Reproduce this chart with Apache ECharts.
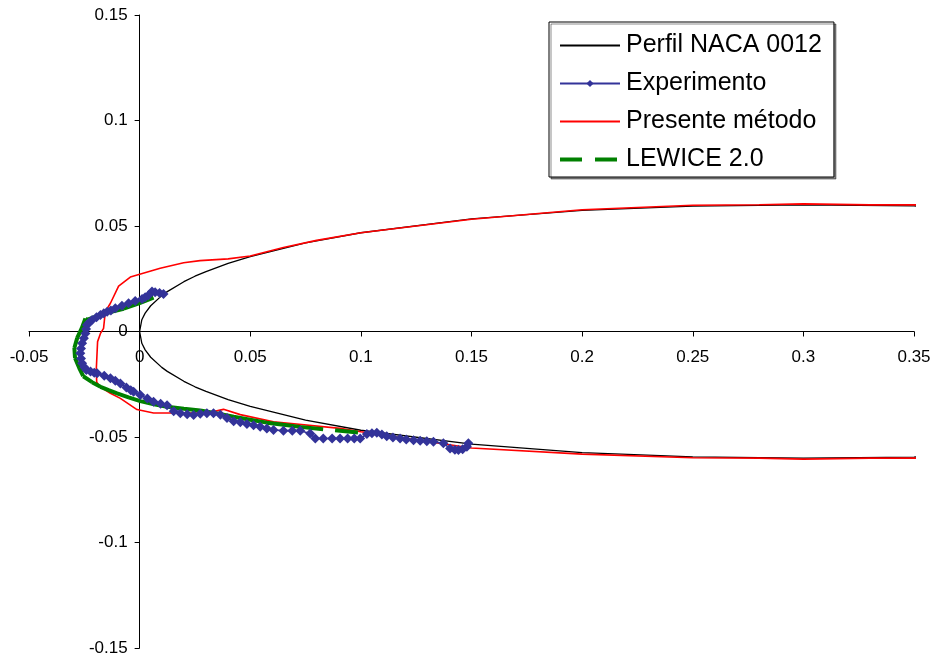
<!DOCTYPE html>
<html>
<head>
<meta charset="utf-8">
<title>Perfil NACA 0012 - hielo</title>
<script src="https://cdn.jsdelivr.net/npm/echarts@6/dist/echarts.min.js"></script>
<style>
    html, body { margin: 0; padding: 0; background: #fff; }
    #chart { width: 934px; height: 657px; }
</style>
</head>
<body>
<div id="chart"></div>
<script>
// nombres de las series (leyenda)
var seriesNames = ['Perfil NACA 0012', 'Experimento', 'Presente método', 'LEWICE 2.0'];

// perfil NACA 0012: extrados de 0.4 a 0, luego intrados de 0 a 0.4
var perfilX = [0.4, 0.35, 0.3, 0.25, 0.2, 0.15, 0.1, 0.075, 0.05, 0.04, 0.03, 0.025, 0.02, 0.0125, 0.01, 0.005, 0.0025, 0.001, 0,
    0.001, 0.0025, 0.005, 0.01, 0.0125, 0.02, 0.025, 0.03, 0.04, 0.05, 0.075, 0.1, 0.15, 0.2, 0.25, 0.3, 0.35, 0.4];
var perfilY = [0.058, 0.0595, 0.06, 0.0594, 0.0574, 0.0534, 0.0468, 0.042, 0.0355, 0.0323, 0.0284, 0.0262, 0.0236, 0.0189, 0.017, 0.0122, 0.0087, 0.0056, 0,
    -0.0056, -0.0087, -0.0122, -0.017, -0.0189, -0.0236, -0.0262, -0.0284, -0.0323, -0.0355, -0.042, -0.0468, -0.0534, -0.0574, -0.0594, -0.06, -0.0595, -0.058];

// experimento (puntos con rombo)
var expX = [0.0108, 0.009, 0.007, 0.0056, 0.004, 0.0025, 0.0011, -0.002, -0.005, -0.008, -0.011, -0.013, -0.0147, -0.0162, -0.0177, -0.0195,
    -0.0215, -0.0228, -0.0238, -0.0242, -0.0245, -0.0252, -0.026, -0.0265, -0.0268, -0.0265, -0.026, -0.025, -0.0241, -0.0222, -0.0205,
    -0.0192, -0.016, -0.0132, -0.011, -0.0087, -0.006, -0.004, -0.0027, 0.0003, 0.0035, 0.0063, 0.0095, 0.0124, 0.0154, 0.0184, 0.0215,
    0.0244, 0.0274, 0.0304, 0.0334, 0.0365, 0.0395, 0.0425, 0.0455, 0.0485, 0.0515, 0.0545, 0.0575, 0.0605, 0.065, 0.069, 0.0726, 0.0771,
    0.0794, 0.083, 0.087, 0.0906, 0.094, 0.097, 0.0997, 0.1027, 0.105, 0.1072, 0.1095, 0.1117, 0.1145, 0.1177, 0.1205, 0.1238, 0.1268,
    0.1298, 0.1328, 0.1373, 0.1403, 0.1425, 0.1441, 0.146, 0.1479, 0.1486];
var expY = [0.0178, 0.0183, 0.0186, 0.0189, 0.0172, 0.0162, 0.0154, 0.0145, 0.0134, 0.0122, 0.011, 0.01, 0.0094, 0.0086, 0.0078, 0.0068,
    0.0055, 0.0043, 0.0031, 0.0012, -0.0009, -0.0032, -0.0056, -0.008, -0.0103, -0.0128, -0.0151, -0.017, -0.0183, -0.019, -0.0195,
    -0.0198, -0.021, -0.0222, -0.0234, -0.0246, -0.0265, -0.0278, -0.0286, -0.0301, -0.0318, -0.0333, -0.0342, -0.0349, -0.0378, -0.0388, -0.0392,
    -0.0396, -0.039, -0.0388, -0.0388, -0.0395, -0.041, -0.0425, -0.043, -0.0438, -0.0444, -0.0452, -0.046, -0.0467, -0.047, -0.047, -0.047, -0.0483,
    -0.0507, -0.0507, -0.0507, -0.0507, -0.0507, -0.0507, -0.0507, -0.0486, -0.0482, -0.048, -0.0488, -0.0496, -0.0502, -0.0507, -0.0512, -0.0515, -0.0518,
    -0.052, -0.0523, -0.053, -0.0554, -0.056, -0.0562, -0.0558, -0.0546, -0.053];

// presente método
var presX = [0.36, 0.33, 0.3, 0.28, 0.25, 0.2, 0.15, 0.1, 0.08, 0.065, 0.05, 0.04, 0.0273, 0.0199, 0.0093, -0.0042, -0.0095, -0.0132, -0.0155,
    -0.0159, -0.0163, -0.0177, -0.019, -0.0196, -0.0194, -0.0175, -0.0132, -0.0087, -0.0012, 0.0063, 0.0304, 0.0379, 0.0455, 0.0605, 0.0906,
    0.1, 0.15, 0.2, 0.25, 0.28, 0.3, 0.33, 0.36];
var presY = [0.06, 0.06, 0.0605, 0.0601, 0.0598, 0.0577, 0.0532, 0.0468, 0.0432, 0.0398, 0.0358, 0.0344, 0.0336, 0.0326, 0.03, 0.0258, 0.0215, 0.0134, 0.0094,
    0.0055, 0.0015, -0.0009, -0.0048, -0.0183, -0.024, -0.0265, -0.0293, -0.0317, -0.037, -0.0386, -0.0386, -0.0369, -0.0394, -0.0428, -0.0459,
    -0.0475, -0.0552, -0.0581, -0.0598, -0.06, -0.0605, -0.06, -0.06];

// LEWICE 2.0
var lewX = [0.0063, 0, -0.0072, -0.0147, -0.0205, -0.0238, -0.0245, -0.0262, -0.0282, -0.0295, -0.0292, -0.027, -0.0255, -0.0215, -0.0177,
    -0.014, -0.0102, -0.005, 0.0003, 0.0065, 0.0124, 0.02, 0.0274, 0.035, 0.0425, 0.05, 0.0575, 0.065, 0.0726, 0.0995];
var lewY = [0.016, 0.0135, 0.0108, 0.0088, 0.0068, 0.0055, 0.0062, 0.0015, -0.003, -0.0078, -0.0125, -0.018, -0.0212, -0.024, -0.0262,
    -0.0278, -0.0293, -0.0312, -0.033, -0.0345, -0.0357, -0.0366, -0.0374, -0.0388, -0.0404, -0.0418, -0.0432, -0.0442, -0.0452, -0.048];

// ejes
var xMin = -0.05, xMax = 0.35, xStep = 0.05;
var yMin = -0.15, yMax = 0.15, yStep = 0.05;

var W = 934, H = 657;
var gridL = 29, gridR = 20, gridT = 15, gridB = 9;

// los ejes cruzan en (0,0): se desplazan con offset para que las etiquetas vayan con la linea
var offX = -(W - gridL - gridR) * (0 - xMin) / (xMax - xMin);
var offY = -(H - gridT - gridB) * (0 - yMin) / (yMax - yMin);

function pares(xs, ys) {
    var out = [];
    for (var i = 0; i < xs.length; i++) {
        out.push([xs[i], ys[i]]);
    }
    return out;
}

// Excel reinicia el trazo discontinuo en cada tramo: un subtramo por par de puntos
function tramos(xs, ys) {
    var out = [];
    for (var i = 0; i < xs.length - 1; i++) {
        out.push([xs[i], ys[i]]);
        out.push([xs[i + 1], ys[i + 1]]);
        if (i < xs.length - 2) out.push([null, null]);
    }
    return out;
}

var fuente = "'Liberation Sans', Arial, sans-serif";

function etiqueta(v) {
    return String(+v.toFixed(2));
}

var sinSimbolo = { opacity: 0 };

var chart = echarts.init(document.getElementById('chart'), null, { renderer: 'canvas' });

chart.setOption({
    animation: false,
    backgroundColor: '#fff',
    grid: {
        left: gridL,
        right: gridR,
        top: gridT,
        bottom: gridB,
        containLabel: false,
        outerBoundsMode: 'none'
    },
    legend: {
        data: [
            { name: seriesNames[0], itemStyle: sinSimbolo },
            { name: seriesNames[1] },
            { name: seriesNames[2], itemStyle: sinSimbolo },
            { name: seriesNames[3], itemStyle: sinSimbolo, lineStyle: { width: 4, type: [22, 13], color: '#008000' } }
        ],
        orient: 'vertical',
        left: 549,
        top: 22,
        padding: [11, 12, 5, 9],
        itemGap: 13,
        itemWidth: 60,
        itemHeight: 9,
        backgroundColor: '#fff',
        borderColor: '#000',
        borderWidth: 1,
        shadowColor: 'rgba(0,0,0,0.45)',
        shadowBlur: 0,
        shadowOffsetX: 2,
        shadowOffsetY: 2,
        selectedMode: false,
        textStyle: {
            fontFamily: fuente,
            fontSize: 25,
            lineHeight: 25,
            color: '#000',
            padding: [0, 0, 0, 1]
        }
    },
    xAxis: {
        type: 'value',
        position: 'bottom',
        offset: offY,
        min: xMin,
        max: xMax,
        interval: xStep,
        axisLine: { onZero: false, lineStyle: { color: '#000', width: 1 } },
        axisTick: { show: true, length: 5, lineStyle: { color: '#000' } },
        splitLine: { show: false },
        axisLabel: {
            fontFamily: fuente,
            fontSize: 17,
            color: '#000',
            margin: 17,
            formatter: etiqueta
        }
    },
    yAxis: {
        type: 'value',
        position: 'left',
        offset: offX,
        min: yMin,
        max: yMax,
        interval: yStep,
        axisLine: { onZero: false, lineStyle: { color: '#000', width: 1 } },
        axisTick: { show: true, length: 5, lineStyle: { color: '#000' } },
        splitLine: { show: false },
        axisLabel: {
            fontFamily: fuente,
            fontSize: 17,
            color: '#000',
            margin: 12,
            formatter: etiqueta
        }
    },
    series: [
        {
            name: seriesNames[0],
            type: 'line',
            data: pares(perfilX, perfilY),
            symbol: 'none',
            lineStyle: { color: '#000', width: 1.3 },
            itemStyle: { color: '#000' },
            z: 2
        },
        {
            name: seriesNames[1],
            type: 'line',
            data: pares(expX, expY),
            symbol: 'diamond',
            symbolSize: 10,
            lineStyle: { color: '#333399', width: 1.6 },
            itemStyle: { color: '#333399' },
            z: 5
        },
        {
            name: seriesNames[2],
            type: 'line',
            data: pares(presX, presY),
            symbol: 'none',
            lineStyle: { color: '#ff0000', width: 1.6 },
            itemStyle: { color: '#ff0000' },
            z: 3
        },
        {
            name: seriesNames[3],
            type: 'line',
            data: tramos(lewX, lewY),
            symbol: 'none',
            connectNulls: false,
            lineStyle: { color: '#008000', width: 4, type: [23, 12], cap: 'butt' },
            itemStyle: { color: '#008000' },
            z: 4
        }
    ]
});
</script>
</body>
</html>
